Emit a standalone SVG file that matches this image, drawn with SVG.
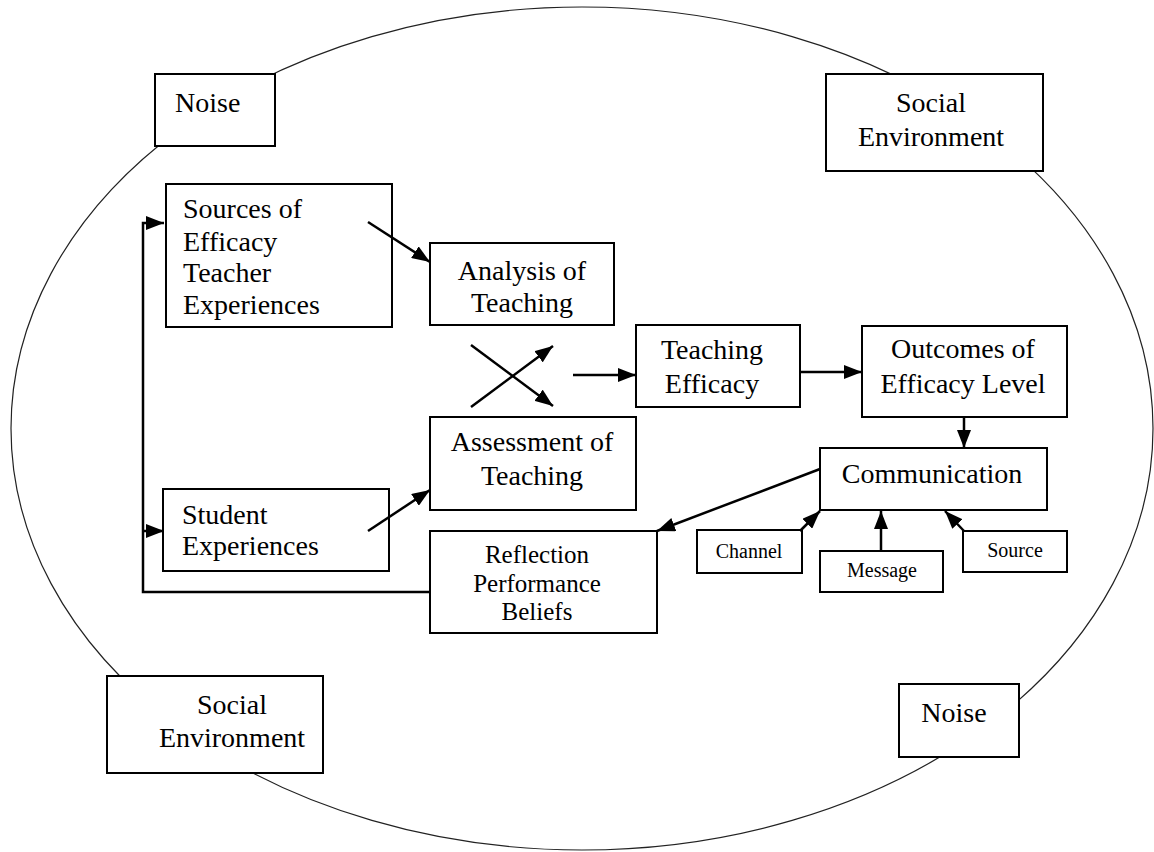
<svg xmlns="http://www.w3.org/2000/svg" width="1154" height="852" viewBox="0 0 1154 852">
<defs>
<marker id="ah" markerUnits="userSpaceOnUse" markerWidth="18" markerHeight="14" viewBox="0 0 18 14" refX="18" refY="7" orient="auto">
<path d="M0,0 L18,7 L0,14 Z" fill="#000"/>
</marker>
</defs>
<style>
.bx{fill:#fff;stroke:#000;stroke-width:2}
.t{font-family:"Liberation Serif","Times New Roman",serif;font-size:28px;fill:#000}
.m{text-anchor:middle}
.s{font-size:25px}
.xs{font-size:20px}
.c{fill:none;stroke:#000;stroke-width:2.5}
.a{marker-end:url(#ah)}
</style>
<rect width="1154" height="852" fill="#fff"/>
<ellipse id="environment" cx="582" cy="428.5" rx="571" ry="421.5" fill="none" stroke="#222" stroke-width="1.2"/>
<g id="noise-top">
<rect class="bx" x="155" y="74" width="120" height="72"/>
<text class="t" x="175" y="112">Noise</text>
</g>
<g id="social-top">
<rect class="bx" x="826" y="74" width="217" height="97"/>
<text class="t m" x="931" y="112">Social</text>
<text class="t m" x="931" y="146">Environment</text>
</g>
<g id="sources">
<rect class="bx" x="166" y="184" width="226" height="143"/>
<text class="t" x="183" y="218">Sources of</text>
<text class="t" x="183" y="251">Efficacy</text>
<text class="t" x="183" y="282">Teacher</text>
<text class="t" x="183" y="314">Experiences</text>
</g>
<g id="analysis">
<rect class="bx" x="430" y="243" width="184" height="82"/>
<text class="t m" x="522" y="280">Analysis of</text>
<text class="t m" x="522" y="312">Teaching</text>
</g>
<g id="teaching-efficacy">
<rect class="bx" x="636" y="325" width="164" height="82"/>
<text class="t m" x="712" y="359">Teaching</text>
<text class="t m" x="712" y="393">Efficacy</text>
</g>
<g id="outcomes">
<rect class="bx" x="862" y="326" width="205" height="91"/>
<text class="t m" x="963" y="358">Outcomes of</text>
<text class="t m" x="963" y="393">Efficacy Level</text>
</g>
<g id="assessment">
<rect class="bx" x="430" y="417" width="206" height="93"/>
<text class="t m" x="532" y="451">Assessment of</text>
<text class="t m" x="532" y="485">Teaching</text>
</g>
<g id="communication">
<rect class="bx" x="820" y="448" width="227" height="62"/>
<text class="t m" x="932" y="483">Communication</text>
</g>
<g id="student">
<rect class="bx" x="163" y="489" width="226" height="82"/>
<text class="t" x="182" y="524">Student</text>
<text class="t" x="182" y="555">Experiences</text>
</g>
<g id="reflection">
<rect class="bx" x="430" y="531" width="227" height="102"/>
<text class="t m s" x="537" y="563">Reflection</text>
<text class="t m s" x="537" y="592">Performance</text>
<text class="t m s" x="537" y="620">Beliefs</text>
</g>
<g id="channel">
<rect class="bx" x="697" y="530" width="105" height="43"/>
<text class="t m xs" x="749" y="558">Channel</text>
</g>
<g id="message">
<rect class="bx" x="820" y="551" width="123" height="41"/>
<text class="t m xs" x="882" y="577">Message</text>
</g>
<g id="source">
<rect class="bx" x="963" y="531" width="104" height="41"/>
<text class="t m xs" x="1015" y="557">Source</text>
</g>
<g id="social-bottom">
<rect class="bx" x="107" y="676" width="216" height="97"/>
<text class="t m" x="232" y="714">Social</text>
<text class="t m" x="232" y="747">Environment</text>
</g>
<g id="noise-bottom">
<rect class="bx" x="899" y="684" width="120" height="73"/>
<text class="t m" x="954" y="722">Noise</text>
</g>
<g id="connectors">
<line class="c a" x1="368" y1="222" x2="430" y2="262"/>
<line class="c a" x1="471" y1="345" x2="553" y2="406"/>
<line class="c a" x1="471" y1="407" x2="553" y2="346"/>
<line class="c a" x1="573" y1="375" x2="636" y2="375"/>
<line class="c a" x1="800" y1="372" x2="862" y2="372"/>
<line class="c a" x1="964" y1="417" x2="964" y2="448"/>
<line class="c a" x1="368" y1="531" x2="430" y2="490"/>
<line class="c a" x1="820" y1="469" x2="657" y2="531"/>
<line class="c a" x1="800" y1="531" x2="820" y2="511"/>
<line class="c a" x1="881" y1="551" x2="881" y2="511"/>
<line class="c a" x1="964" y1="531" x2="945" y2="511"/>
<polyline class="c a" points="430,592 143,592 143,223 164,223"/>
<line class="c a" x1="143" y1="531" x2="164" y2="531"/>
</g>
</svg>
